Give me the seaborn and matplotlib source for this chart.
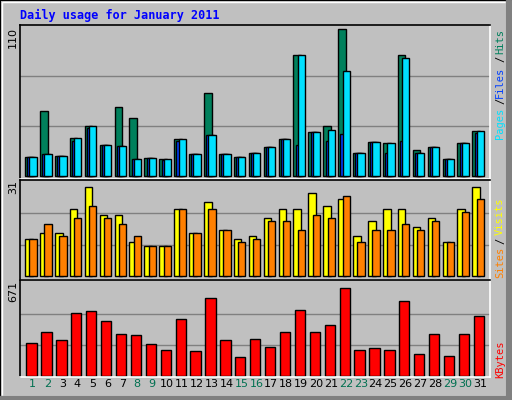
import numpy as np
import matplotlib
matplotlib.use("Agg")
import matplotlib.pyplot as plt
from matplotlib.patches import Rectangle
import seaborn as sns

days = list(range(1, 32))
hits = [14, 48, 15, 28, 37, 23, 51, 43, 13, 12.5, 27, 16, 61, 16, 14, 17,
        21, 27, 89, 32, 37, 108, 17, 25, 24, 89, 19, 21, 12.5, 24, 33]
files = [14, 16, 15, 28, 37, 23, 22, 12.5, 13, 12.5, 27, 16, 30, 16, 14, 17,
         21, 27, 89, 32, 34, 77, 17, 25, 24, 86.5, 17, 21, 12.5, 24, 33]
pages = [14, 16, 15, 26, 35, 23, 22, 12.5, 13, 12, 26, 16, 30, 16, 14, 17,
         21, 27, 23, 32, 26, 31, 17, 25, 17, 26, 17, 21, 12.5, 24, 31.5]
visits = [12, 14, 14, 22, 29, 20, 20, 11, 10, 10, 22, 14, 24, 15, 12, 13,
          19, 22, 22, 27, 23, 25, 13, 18, 22, 22, 16, 19, 11, 22, 29]
sites = [12, 17, 13, 19, 23, 19, 17, 13, 10, 10, 22, 14, 22, 15, 11, 12,
         18, 18, 15, 20, 19, 26, 11, 15, 15, 17, 15, 18, 11, 21, 25]
kbytes = [237, 314, 258, 452, 466, 397, 300, 293, 231, 189, 410, 175, 563, 258,
          134, 265, 210, 314, 473, 314, 369, 632, 189, 203, 189, 542, 154, 300,
          141, 300, 431]
weekend = [1, 2, 8, 9, 15, 16, 22, 23, 29, 30]

sns.set_style("white")
plt.rcParams['font.family'] = ['DejaVu Sans']
BG = "#C0C0C0"
W, H = 512, 400
fig = plt.figure(figsize=(W / 100, H / 100), dpi=100, facecolor=BG)

fig.patches.append(Rectangle((0, 0), 1, 1, transform=fig.transFigure, fill=False,
                             edgecolor="black", lw=1.5))
fig.patches.append(Rectangle((2 / W, 4 / H), (W - 8) / W, (H - 6) / H, transform=fig.transFigure,
                             fill=False, edgecolor="white", lw=1))
fig.patches.append(Rectangle((W - 6.5, 0), 5, H, transform=None, color="#808080"))
fig.patches.append(Rectangle((0, 0), W, 4, transform=None, color="#808080"))

def mkax(top, bottom):
    ax = fig.add_axes([20 / W, (H - bottom) / H, 470 / W, (bottom - top) / H])
    ax.set_facecolor(BG)
    for s in ax.spines.values():
        s.set_color("black")
        s.set_linewidth(1.2)
    ax.spines["right"].set_color("white")
    ax.spines["bottom"].set_color("white")
    ax.set_xlim(0.148, 31.67)
    ax.set_xticks([])
    ax.set_yticks([])
    return ax

d = np.array(days, dtype=float)
ek = dict(edgecolor="black", linewidth=1.0, align="edge")

ax1 = mkax(25, 179)
ax1.set_ylim(-2.2, 111)
for g in (110 / 3, 220 / 3):
    ax1.axhline(g, color="#808080", lw=1, zorder=0)
ax1.bar(d - 0.51, hits, width=0.51, color="#00805C", zorder=2, **ek)
ax1.bar(d - 0.36, pages, width=0.5, color="#0040FF", zorder=3, **ek)
ax1.bar(d - 0.22, files, width=0.49, color="#00E0FF", zorder=4, **ek)

ax2 = mkax(180, 280)
ax2.set_ylim(-1.2, 31.3)
for g in (31 / 3, 62 / 3):
    ax2.axhline(g, color="#808080", lw=1, zorder=0)
ax2.bar(d - 0.51, visits, width=0.51, color="#FFFF00", zorder=2, **ek)
ax2.bar(d - 0.22, sites, width=0.49, color="#FF8000", zorder=3, **ek)

ax3 = mkax(280, 377)
ax3.set_ylim(-9, 690)
for g in (671 / 3, 1342 / 3):
    ax3.axhline(g, color="#808080", lw=1, zorder=0)
ax3.bar(d - 0.42, kbytes, width=0.69, color="#FF0000", zorder=2, **ek)

for day in days:
    ax3.text(day, -0.07, str(day), transform=ax3.get_xaxis_transform(),
             ha="center", va="center", fontsize=8,
             color="#007050" if day in weekend else "black")

def ft(x, y, s, color, size=7.5):
    fig.text(x / W, 1 - y / H, s, color=color, fontsize=size, rotation=90,
             ha="center", va="center", family="DejaVu Sans Mono")

fig.text(20 / W, 1 - 15 / H, "Daily usage for January 2011", color="#0000FF",
         fontsize=8.5, fontweight="bold", family="DejaVu Sans Mono", ha="left", va="center")
for y, s in ((37, "110"), (187, "31"), (291, "671")):
    fig.text(13 / W, 1 - y / H, s, color="black", fontsize=8, rotation=90,
             ha="center", va="center")

ft(500, 41, "Hits", "#00805C")
ft(500, 59, "/", "black")
ft(500, 82, "Files", "#0040FF")
ft(500, 101, "/", "black")
ft(500, 123, "Pages", "#00E0FF")
ft(500, 216, "Visits", "#FFFF00")
ft(500, 241, "/", "black")
ft(500, 262, "Sites", "#FF8000")
ft(500, 359, "KBytes", "#FF0000")

fig.savefig("out.png", dpi=100, facecolor=BG)
